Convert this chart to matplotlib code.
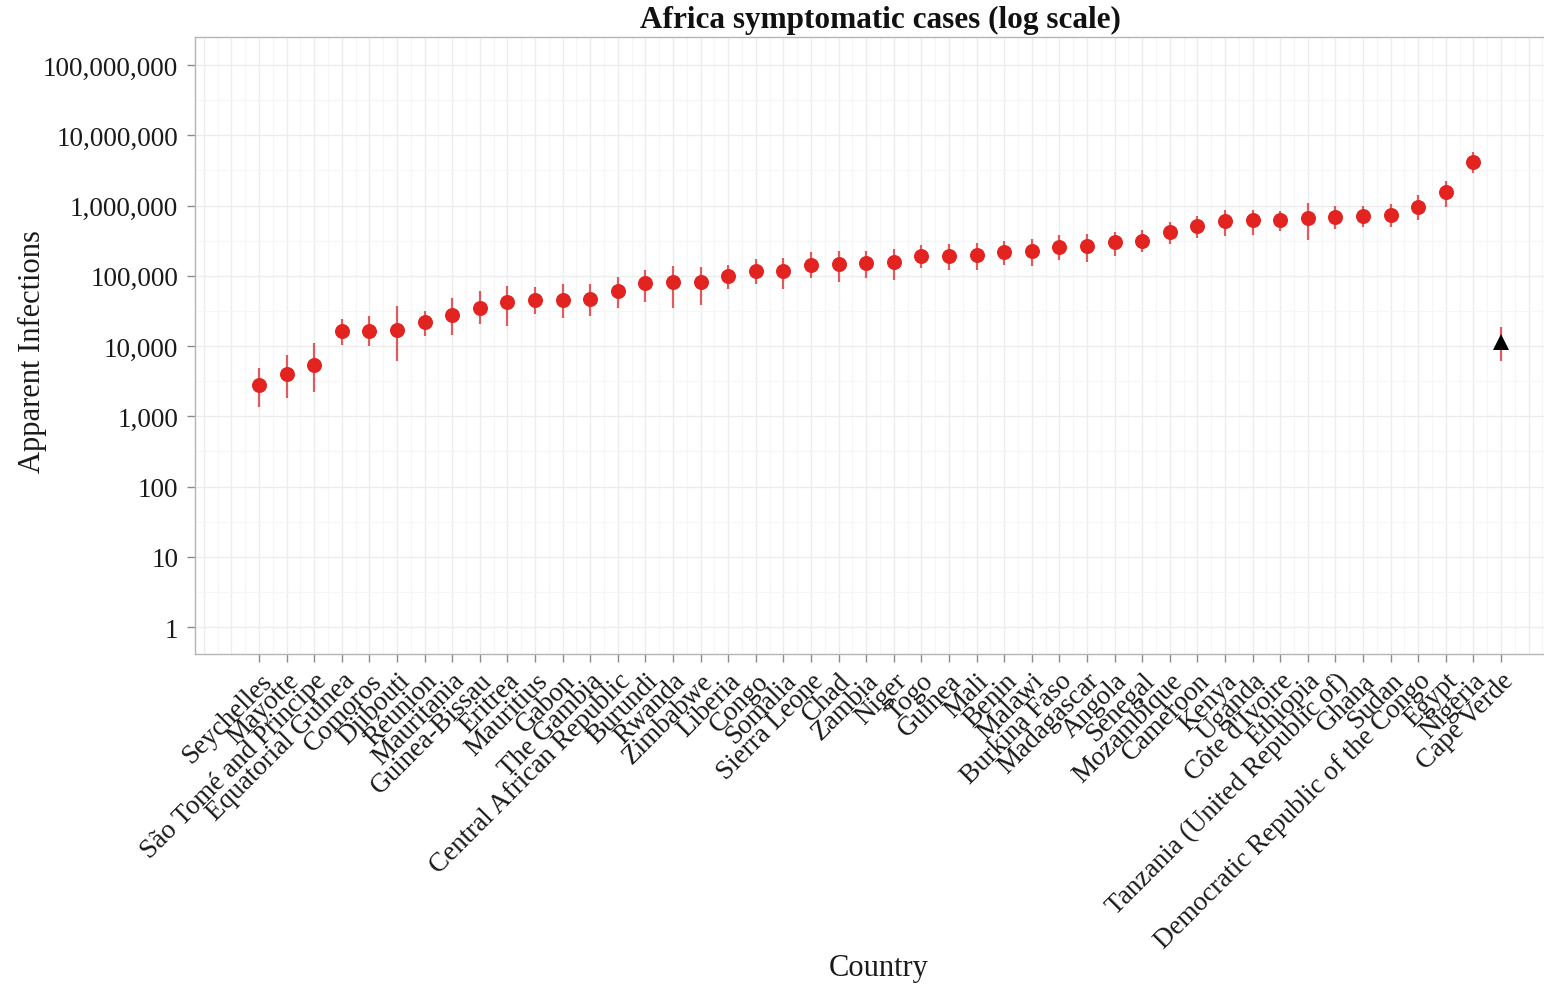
import matplotlib
matplotlib.use("Agg")
import matplotlib.pyplot as plt
import numpy as np
from matplotlib.ticker import FixedLocator, FuncFormatter, NullFormatter

plt.rcParams['font.family'] = ['Liberation Serif', 'DejaVu Serif']

countries = [
    "Seychelles", "Mayotte", "São Tomé and Principe", "Equatorial Guinea", "Comoros",
    "Djibouti", "Réunion", "Mauritania", "Guinea-Bissau", "Eritrea", "Mauritius",
    "Gabon", "The Gambia", "Central African Republic", "Burundi", "Rwanda", "Zimbabwe",
    "Liberia", "Congo", "Somalia", "Sierra Leone", "Chad", "Zambia", "Niger", "Togo",
    "Guinea", "Mali", "Benin", "Malawi", "Burkina Faso", "Madagascar", "Angola",
    "Senegal", "Mozambique", "Cameroon", "Kenya", "Uganda", "Côte d'Ivoire", "Ethiopia",
    "Tanzania (United Republic of)", "Ghana", "Sudan",
    "Democratic Republic of the Congo", "Egypt", "Nigeria", "Cape Verde",
]

median_cases = [
    2790, 4030, 5370, 16200, 16200, 17000, 21800, 28000, 35000, 42000, 45000,
    45000, 46700, 60000, 78000, 80700, 80700, 98500, 116000, 116000, 144000,
    146000, 150000, 158000, 189000, 193000, 197000, 216000, 223000, 260000,
    265000, 299000, 315000, 424000, 506000, 596000, 622000, 622000, 664000,
    693000, 702000, 725000, 962000, 1540000, 4200000, 11300,
]

lower_cases = [
    1350, 1820, 2230, 10500, 10000, 6200, 13700, 14400, 20600, 19300, 28500,
    24800, 27000, 34400, 42600, 34800, 38000, 65000, 76000, 65000, 92000,
    83000, 93000, 87000, 130000, 121000, 121000, 142000, 138000, 168000,
    155000, 193000, 219000, 283000, 340000, 372000, 380000, 437000, 322000,
    462000, 492000, 492000, 630000, 944000, 2950000, 6200,
]

upper_cases = [
    4900, 7500, 11000, 24000, 27000, 37000, 32000, 48000, 60000, 72000, 68500,
    76000, 76000, 95000, 121000, 136000, 132000, 144000, 174000, 178000, 215000,
    224000, 222000, 241000, 274000, 283000, 292000, 315000, 333000, 378000,
    395000, 426000, 452000, 585000, 716000, 871000, 871000, 843000, 1090000,
    980000, 980000, 1050000, 1414000, 2250000, 5830000, 18500,
]

marker_shape = ["o"] * 45 + ["^"]

y_breaks = [1, 10, 100, 1000, 10000, 100000, 1000000, 10000000, 100000000]

W, H = 1544, 987
fig = plt.figure(figsize=(W / 100, H / 100), dpi=100)
left, right, bottom, top = 195, 1563, 655, 38
ax = fig.add_axes([left / W, 1 - bottom / H, (right - left) / W, (bottom - top) / H])

x = np.arange(len(countries))
med = np.array(median_cases, float)
lo = np.array(lower_cases, float)
hi = np.array(upper_cases, float)

red = "#e3231f"
ax.vlines(x, lo, hi, color="#d8282c", alpha=0.75, linewidth=1.6, zorder=3)
for xi, m, shp in zip(x, med, marker_shape):
    if shp == "o":
        ax.plot(xi, m, "o", color=red, markersize=10.8, markeredgewidth=0, zorder=4)
    else:
        ax.plot(xi, m, "^", color="black", markersize=11, markeredgewidth=0, zorder=4)

ax.set_yscale("log")
ax.set_ylim(10 ** -0.384, 10 ** 8.4)
ax.set_xlim(-2.32, len(countries) - 1 + 2.25)

ax.yaxis.set_major_locator(FixedLocator(y_breaks))
ax.yaxis.set_major_formatter(FuncFormatter(lambda v, p: f"{int(round(v)):,}"))
ax.yaxis.set_minor_locator(FixedLocator([10 ** (k + 0.5) for k in range(-1, 9)]))
ax.yaxis.set_minor_formatter(NullFormatter())

ax.set_xticks(x)
ax.set_xticklabels(countries, rotation=45, ha="right", va="top",
                   rotation_mode="anchor")
ax.xaxis.set_minor_locator(FixedLocator(np.arange(-2.5, len(countries) + 2, 1.0)))

# background grid: major at each category / decade, minor halfway between
grid_major = "#ededed"
grid_minor = "#f6f6f6"
ax.grid(True, which="major", color=grid_major, linewidth=1.0, zorder=0)
ax.grid(True, which="minor", color=grid_minor, linewidth=0.8, zorder=0)
for xe in [-2, -1, len(countries), len(countries) + 1]:
    ax.axvline(xe, color=grid_major, linewidth=1.0, zorder=0)
ax.set_axisbelow(True)

for s in ax.spines.values():
    s.set_color("#b5b5b5")
    s.set_linewidth(1.0)

ax.tick_params(axis="both", which="major", color="#8a8a8a", length=6, width=1.0,
               labelsize=19.5, labelcolor="#1a1a1a")
ax.tick_params(axis="y", which="major", pad=6)
ax.tick_params(axis="x", which="major", pad=4)
ax.tick_params(which="minor", length=0)

fig.text(880 / W, 1 - 20 / H, "Africa symptomatic cases (log scale)",
         ha="center", va="center", fontsize=22.5, fontweight="bold", color="#111111")
fig.text(32 / W, 1 - 352 / H, "Apparent Infections", rotation=90,
         ha="center", va="center", fontsize=22, color="#1a1a1a")
fig.text(879 / W, 1 - 969 / H, "Country", ha="center", va="center",
         fontsize=22, color="#1a1a1a")

fig.savefig("out.png", dpi=100, facecolor="white")
